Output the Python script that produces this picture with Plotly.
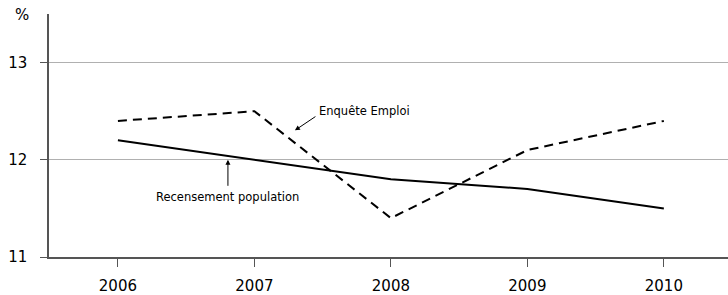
import plotly.graph_objects as go

years = [2006, 2007, 2008, 2009, 2010]
recensement = [12.2, 12.0, 11.8, 11.7, 11.5]
enquete = [12.4, 12.5, 11.4, 12.1, 12.4]
tick_years = [2006, 2007, 2008, 2009, 2010]
tick_y = [11, 12, 13]

FONT = "DejaVu Sans"

fig = go.Figure()
fig.add_trace(go.Scatter(x=years, y=recensement, mode="lines",
                         line=dict(color="black", width=2), showlegend=False,
                         hoverinfo="skip"))
fig.add_trace(go.Scatter(x=years, y=enquete, mode="lines",
                         line=dict(color="black", width=2, dash="9px,6px"), showlegend=False,
                         hoverinfo="skip"))

# arrows
fig.add_annotation(x=2007.297, y=12.303, ax=2007.458, ay=12.455, axref="x", ayref="y",
                   xref="x", yref="y", text="", showarrow=True, arrowhead=2,
                   arrowsize=1, arrowwidth=1, arrowcolor="black", standoff=0)
fig.add_annotation(x=2006.806, y=12.0, ax=2006.806, ay=11.717, axref="x", ayref="y",
                   xref="x", yref="y", text="", showarrow=True, arrowhead=2,
                   arrowsize=1, arrowwidth=1, arrowcolor="black", standoff=0)
# labels
fig.add_annotation(x=2007.46, y=12.50, xref="x", yref="y", text="Enquête Emploi",
                   showarrow=False, xanchor="left", yanchor="middle",
                   font=dict(family=FONT, size=11.5, color="black"))
fig.add_annotation(x=2006.806, y=11.62, xref="x", yref="y", text="Recensement population",
                   showarrow=False, xanchor="center", yanchor="middle",
                   font=dict(family=FONT, size=11.5, color="black"))
fig.add_annotation(x=-0.04, y=0.996, xref="paper", yref="paper", text="%",
                   showarrow=False, xanchor="center", yanchor="middle",
                   font=dict(family=FONT, size=15, color="black"))

fig.update_layout(
    width=728, height=295,
    margin=dict(l=49, r=0, t=14, b=33),
    paper_bgcolor="white", plot_bgcolor="white",
    font=dict(family=FONT, size=15, color="black"),
    xaxis=dict(range=[2005.495, 2010.47], tickvals=tick_years,
               ticktext=[str(v) for v in tick_years],
               showgrid=False, zeroline=False, showline=True,
               linecolor="#555555", linewidth=1.5,
               ticks="outside", ticklen=8, tickcolor="#555555", tickwidth=1,
               ticklabelstandoff=6,
               tickfont=dict(size=15)),
    yaxis=dict(range=[11, 13.5], tickvals=tick_y,
               showgrid=True, gridcolor="#b0b0b0", gridwidth=1,
               zeroline=False, showline=True,
               linecolor="#555555", linewidth=1.5,
               ticks="outside", ticklen=7, tickcolor="#555555", tickwidth=1,
               ticklabelstandoff=10,
               tickfont=dict(size=15)),
)

fig.write_html("out.html", config={"displayModeBar": False},
               post_script="document.body.style.margin='0';")
